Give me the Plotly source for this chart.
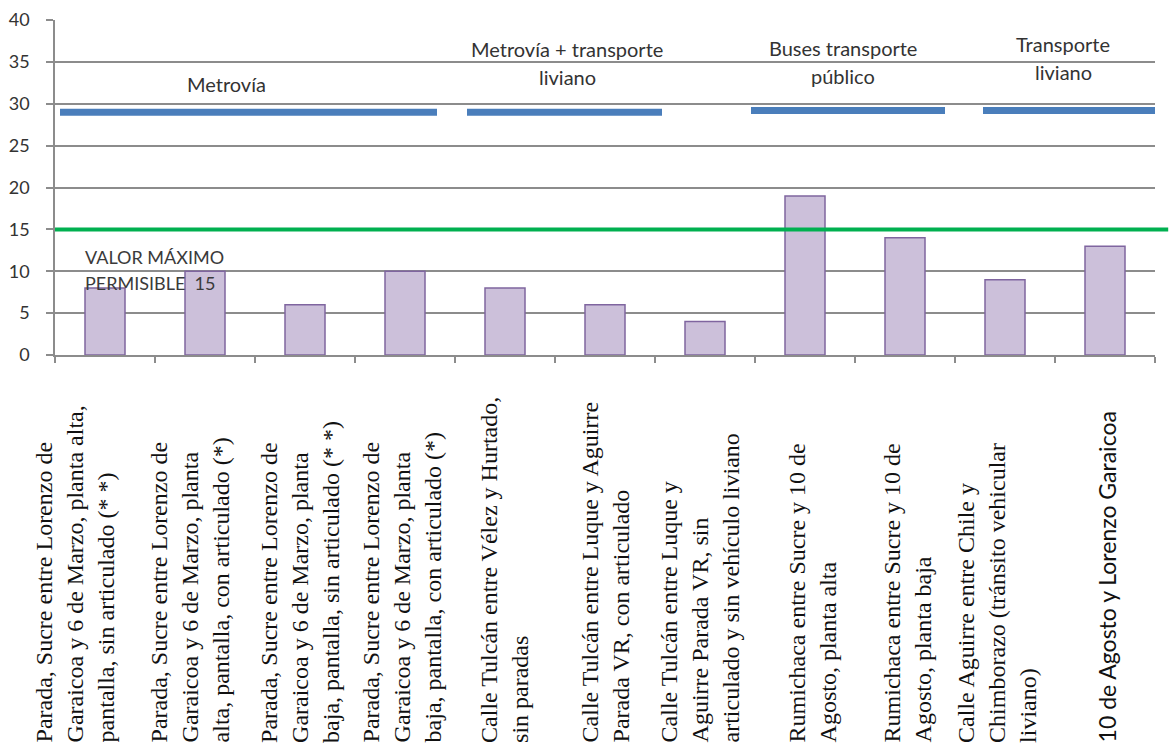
import plotly.graph_objects as go

# Sitios de medición (eje X) y valores medidos
sitios = [
    "Parada, Sucre entre Lorenzo de<br>Garaicoa y 6 de Marzo, planta alta,<br>pantalla, sin articulado (* *)",
    "Parada, Sucre entre Lorenzo de<br>Garaicoa y 6 de Marzo, planta<br>alta, pantalla, con articulado (*)",
    "Parada, Sucre entre Lorenzo de<br>Garaicoa y 6 de Marzo, planta<br>baja, pantalla, sin articulado (* *)",
    "Parada, Sucre entre Lorenzo de<br>Garaicoa y 6 de Marzo, planta<br>baja, pantalla, con articulado (*)",
    "Calle Tulcán entre Vélez y Hurtado,<br>sin paradas",
    "Calle Tulcán entre Luque y Aguirre<br>Parada VR, con articulado",
    "Calle Tulcán entre Luque y<br>Aguirre Parada VR, sin<br>articulado y sin vehículo liviano",
    "Rumichaca entre Sucre y 10 de<br>Agosto, planta alta",
    "Rumichaca entre Sucre y 10 de<br>Agosto, planta baja",
    "Calle Aguirre entre Chile y<br>Chimborazo (tránsito vehicular<br>liviano)",
    "10 de Agosto y Lorenzo Garaicoa",
]
valores = [8, 10, 6, 10, 8, 6, 4, 19, 14, 9, 13]

# Grupos de fuentes de emisión y su tramo sobre el eje de categorías
grupos = ["Metrovía", "Metrovía + transporte<br>liviano",
          "Buses transporte<br>público", "Transporte<br>liviano"]
grupo_desde = [-0.45, 3.62, 6.46, 8.78]
grupo_hasta = [3.32, 5.57, 8.40, 10.56]
grupo_nivel = [29, 29, 29.2, 29.2]

limite_permisible = 15

# --- estilos y colocación de textos ---
etiqueta_dx = [-30, -15, -5, -3, 0, 0, -5, 7, 2, -8, 2]
etiqueta_fuente = ["Liberation Serif"] * 10 + ["Lato"]
etiqueta_tam = [24] * 10 + [23]
grupo_texto_x = [1.21, 4.62, 7.38, 9.58]
grupo_texto_y = [32.3, 34.87, 35.0, 35.46]

SANS = "Lato"
GRIS = "#8c8c8c"

fig = go.Figure()

fig.add_trace(go.Bar(
    x=sitios, y=valores, width=0.4,
    marker=dict(color="#CCC0DA", line=dict(color="#7F659F", width=1.5)),
    showlegend=False,
))

# Líneas de grupo
for g in range(len(grupos)):
    fig.add_shape(type="line", xref="x", yref="y",
                  x0=grupo_desde[g], x1=grupo_hasta[g],
                  y0=grupo_nivel[g], y1=grupo_nivel[g],
                  line=dict(color="#4A7EBB", width=7), layer="above")
    lineas = grupos[g].split("<br>")
    n = len(lineas)
    for k, txt in enumerate(lineas):
        fig.add_annotation(x=grupo_texto_x[g], y=grupo_texto_y[g], xref="x", yref="y",
                           text=txt, showarrow=False, xanchor="center", yanchor="middle",
                           yshift=-(k - (n - 1) / 2) * 28,
                           font=dict(family=SANS, size=20, color="#333333"))

# Valor máximo permisible
fig.add_shape(type="line", xref="paper", yref="y", x0=0, x1=1.012,
              y0=limite_permisible, y1=limite_permisible,
              line=dict(color="#00B050", width=4), layer="above")
texto_limite = ["VALOR MÁXIMO", f"PERMISIBLE  {limite_permisible}"]
for k, txt in enumerate(texto_limite):
    fig.add_annotation(x=0.0255, y=10.15, xref="paper", yref="y", text=txt,
                       showarrow=False, xanchor="left", yanchor="middle",
                       yshift=13 - 26 * k,
                       font=dict(family=SANS, size=18, color="#3a3a3a"))

# Etiquetas verticales de los sitios
for i, s in enumerate(sitios):
    fig.add_annotation(x=s, y=-1.164, xref="x", yref="paper", text=s,
                       textangle=-90, showarrow=False, xanchor="center",
                       yanchor="bottom", align="left", xshift=etiqueta_dx[i],
                       font=dict(family=etiqueta_fuente[i], size=etiqueta_tam[i],
                                 color="#111111"))

fig.update_layout(
    width=1174, height=754,
    margin=dict(l=55, r=19, t=20, b=399),
    paper_bgcolor="white", plot_bgcolor="white",
    bargap=0.6,
    xaxis=dict(type="category", showticklabels=False, ticks="outside",
               tickson="boundaries", ticklen=6, tickcolor=GRIS, tickwidth=1.5,
               showline=True, linecolor=GRIS, linewidth=1.5, showgrid=False,
               range=[-0.5, 10.5], automargin=False),
    yaxis=dict(range=[0, 40], dtick=5, showgrid=True, gridcolor=GRIS, gridwidth=1.5,
               showline=True, linecolor=GRIS, linewidth=1.5, ticks="outside",
               ticklen=7, tickcolor=GRIS, tickwidth=1.5, zeroline=False,
               ticklabelstandoff=13, automargin=False,
               tickfont=dict(family=SANS, size=18, color="#333333")),
)

fig.write_html("out.html")
